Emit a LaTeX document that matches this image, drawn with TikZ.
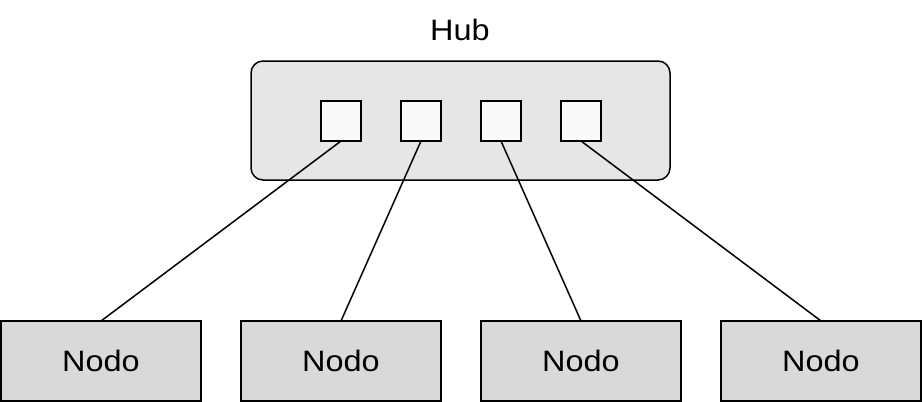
\documentclass[tikz,border=0pt]{standalone}
\usepackage{fontspec}
\setmainfont{Liberation Sans}
\newfontfamily\lblfont[FakeStretch=1.1]{Liberation Sans}
\definecolor{hubfill}{HTML}{E6E6E6}
\definecolor{portfill}{HTML}{FAFAFA}
\definecolor{nodofill}{HTML}{D9D9D9}
\begin{document}
\begin{tikzpicture}[x=1pt,y=-1pt,
  every node/.style={inner sep=0pt,outer sep=0pt},
  lbl/.style={font=\lblfont\fontsize{29.5}{34}\selectfont},
  hubbox/.style={draw,line width=1.5pt,fill=hubfill,rounded corners=12pt,minimum width=419pt,minimum height=119pt},
  port/.style={draw,line width=1.5pt,fill=portfill,minimum width=40pt,minimum height=40pt},
  nodo/.style={draw,line width=1.5pt,fill=nodofill,minimum width=200pt,minimum height=80pt,lbl},
  link/.style={line width=1.5pt}]
\useasboundingbox (0,0) rectangle (922,402);
\node[lbl] (title) at (460,30) {Hub};
\node[hubbox] (hub) at (460.5,120.5) {};
\node[port] (p1) at (341,121) {};
\node[port] (p2) at (421,121) {};
\node[port] (p3) at (501,121) {};
\node[port] (p4) at (581,121) {};
\node[nodo] (n1) at (101,361) {Nodo};
\node[nodo] (n2) at (341,361) {Nodo};
\node[nodo] (n3) at (581,361) {Nodo};
\node[nodo] (n4) at (821,361) {Nodo};
\draw[link] (p1.south) -- (n1.north);
\draw[link] (p2.south) -- (n2.north);
\draw[link] (p3.south) -- (n3.north);
\draw[link] (p4.south) -- (n4.north);
\end{tikzpicture}
\end{document}
